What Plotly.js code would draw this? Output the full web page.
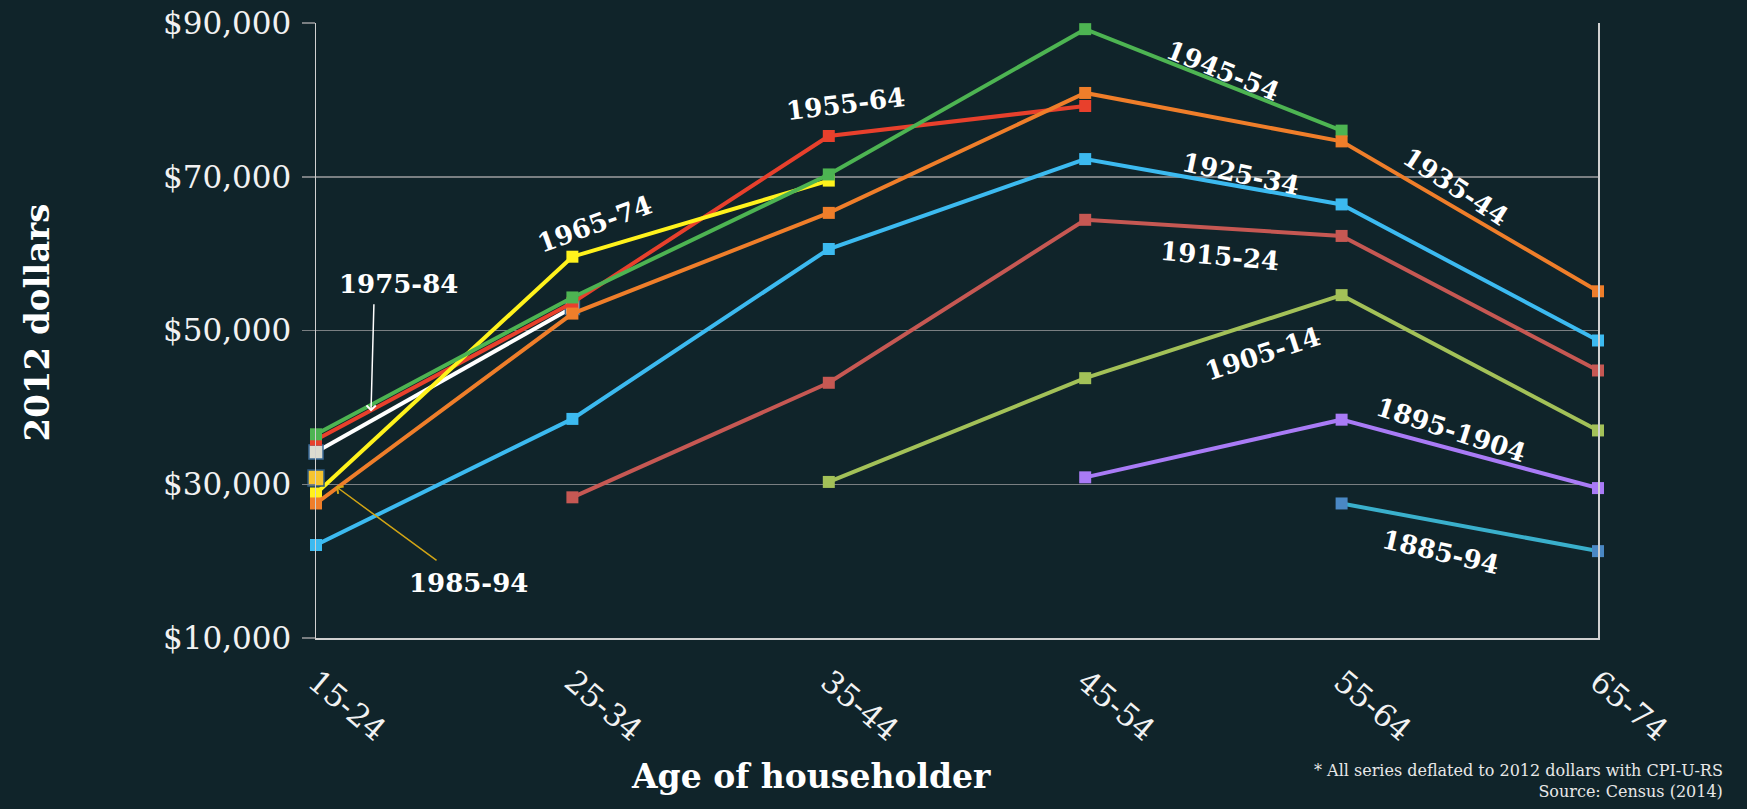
<!DOCTYPE html>
<html>
<head>
<meta charset="utf-8">
<script src="https://cdn.plot.ly/plotly-3.0.1.min.js"></script>
<style>
  html, body { margin: 0; padding: 0; background: #10242a; }
  #chart { width: 1747px; height: 809px; }
</style>
</head>
<body>
<div id="chart"></div>
<script>
// ---- Data ----
const ageGroups = ['15-24', '25-34', '35-44', '45-54', '55-64', '65-74'];

const cohort1885_94   = [null, null, null, null, 27500, 21300];
const cohort1895_1904 = [null, null, null, 30900, 38400, 29500];
const cohort1905_14   = [null, null, 30300, 43800, 54600, 37000];
const cohort1915_24   = [null, 28300, 43200, 64400, 62300, 44800];
const cohort1925_34   = [22100, 38500, 60600, 72300, 66400, 48700];
const cohort1935_44   = [27500, 52200, 65300, 80900, 74600, 55100];
const cohort1945_54   = [36500, 54300, 70300, 89200, 76000, null];
const cohort1955_64   = [35800, 53600, 75300, 79200, null, null];
const cohort1965_74   = [28800, 59600, 69500, null, null, null];
const cohort1975_84   = [34200, 53000, null, null, null, null];
const cohort1985_94   = [30800, null, null, null, null, null];

const yTickVals = [10000, 30000, 50000, 70000, 90000];
const yTickText = ['$10,000', '$30,000', '$50,000', '$70,000', '$90,000'];

const seriesNames = ['1975-84', '1955-64', '1965-74', '1945-54', '1935-44', '1925-34',
                     '1915-24', '1905-14', '1895-1904', '1885-94', '1985-94'];

// ---- Styling ----
const BG = '#10242a';
const SERIF = 'DejaVu Serif, Liberation Serif, serif';

function line(name, values, lineColor, markerColor, opts) {
  opts = opts || {};
  return {
    type: 'scatter', mode: 'lines+markers', name: name,
    x: ageGroups, y: values, connectgaps: false, cliponaxis: false,
    line: { color: lineColor, width: 4 },
    marker: {
      symbol: 'square', size: opts.size || 12, color: markerColor,
      line: { color: opts.border || markerColor, width: opts.borderWidth || 0 }
    },
    hoverinfo: 'x+y+name'
  };
}

const traces = [
  line(seriesNames[0], cohort1975_84, '#ffffff', '#dcdbd0', { size: 14, border: '#3a6a96', borderWidth: 1.5 }),
  line(seriesNames[1], cohort1955_64, '#e8402c', '#e8402c'),
  line(seriesNames[2], cohort1965_74, '#fff21c', '#fff21c'),
  line(seriesNames[3], cohort1945_54, '#4db452', '#4db452'),
  line(seriesNames[4], cohort1935_44, '#ef7e2a', '#ef7e2a'),
  line(seriesNames[5], cohort1925_34, '#3cbaf0', '#3cbaf0'),
  line(seriesNames[6], cohort1915_24, '#c65853', '#c65853'),
  line(seriesNames[7], cohort1905_14, '#a3c158', '#a3c158'),
  line(seriesNames[8], cohort1895_1904, '#a97bf6', '#a97bf6'),
  line(seriesNames[9], cohort1885_94, '#3ab0cc', '#4a88c4'),
  line(seriesNames[10], cohort1985_94, '#f6c42f', '#f6c42f', { size: 16, border: '#2c5a82', borderWidth: 1.5 })
];

function label(text, x, y, angle) {
  return {
    text: text, x: x, y: y, xref: 'x', yref: 'y', showarrow: false,
    textangle: angle, xanchor: 'center', yanchor: 'middle',
    font: { family: SERIF, size: 26, color: '#ffffff', weight: 'bold' }
  };
}

const annotations = [
  label(seriesNames[0], 0.32, 56000, 0),
  label(seriesNames[10], 0.593, 17100, 0),
  label(seriesNames[2], 1.088, 63900, -20),
  label(seriesNames[1], 2.067, 79400, -7),
  label(seriesNames[3], 3.537, 83700, 22),
  label(seriesNames[5], 3.604, 70300, 12),
  label(seriesNames[4], 4.446, 68700, 33),
  label(seriesNames[6], 3.522, 59700, 5),
  label(seriesNames[7], 3.69, 47000, -18),
  label(seriesNames[8], 4.427, 37000, 18),
  label(seriesNames[9], 4.384, 21200, 13),
  // white arrow for 1975-84
  {
    text: '', x: 0.2145, y: 39450, ax: 0.226, ay: 53600, xref: 'x', yref: 'y', axref: 'x', ayref: 'y',
    showarrow: true, arrowhead: 4, arrowsize: 1.2, arrowwidth: 1.5, arrowcolor: '#ffffff'
  },
  // gold arrow for 1985-94
  {
    text: '', x: 0.078, y: 29700, ax: 0.476, ay: 19950, xref: 'x', yref: 'y', axref: 'x', ayref: 'y',
    showarrow: true, arrowhead: 4, arrowsize: 1.2, arrowwidth: 1.5, arrowcolor: '#d2a515'
  },
  // axis titles
  {
    text: 'Age of householder', xref: 'paper', yref: 'paper', x: 0.386, y: 0,
    yshift: -138, xanchor: 'center', yanchor: 'middle', showarrow: false,
    font: { family: SERIF, size: 33, color: '#ffffff', weight: 'bold' }
  },
  {
    text: '2012 dollars', xref: 'paper', yref: 'paper', x: 0, xshift: -279, y: 0.513,
    xanchor: 'center', yanchor: 'middle', textangle: -90, showarrow: false,
    font: { family: SERIF, size: 34, color: '#ffffff', weight: 'bold' }
  },
  // footnote
  {
    text: '* All series deflated to 2012 dollars with CPI-U-RS<br>Source: Census (2014)',
    xref: 'paper', yref: 'paper', x: 1.099, y: 0, yshift: -143, xanchor: 'right', yanchor: 'middle',
    align: 'right', showarrow: false,
    font: { family: SERIF, size: 16, color: '#e8e8e8' }
  }
];

const layout = {
  width: 1747, height: 809,
  paper_bgcolor: BG, plot_bgcolor: BG,
  margin: { l: 316, r: 149, t: 23, b: 171, pad: 0 },
  showlegend: false,
  xaxis: {
    type: 'category', range: [0, 5], showgrid: false, zeroline: false,
    showline: true, linecolor: '#d0d0d0', linewidth: 1.5,
    ticks: '', tickangle: 40,
    tickfont: { family: SERIF, size: 31, color: '#f2f2f2' },
    ticklabelstandoff: 12
  },
  yaxis: {
    range: [10000, 90000], tickvals: yTickVals, ticktext: yTickText,
    showgrid: true, gridcolor: '#7a7f82', gridwidth: 1.5, zeroline: false,
    showline: true, linecolor: '#d0d0d0', linewidth: 1.5, mirror: true,
    ticks: 'outside', ticklen: 13, tickcolor: '#7a7f82', tickwidth: 1.5,
    tickfont: { family: SERIF, size: 31, color: '#f2f2f2' },
    ticklabelstandoff: 4
  },
  annotations: annotations
};

Plotly.newPlot('chart', traces, layout, { displayModeBar: false, staticPlot: true });
</script>
</body>
</html>
